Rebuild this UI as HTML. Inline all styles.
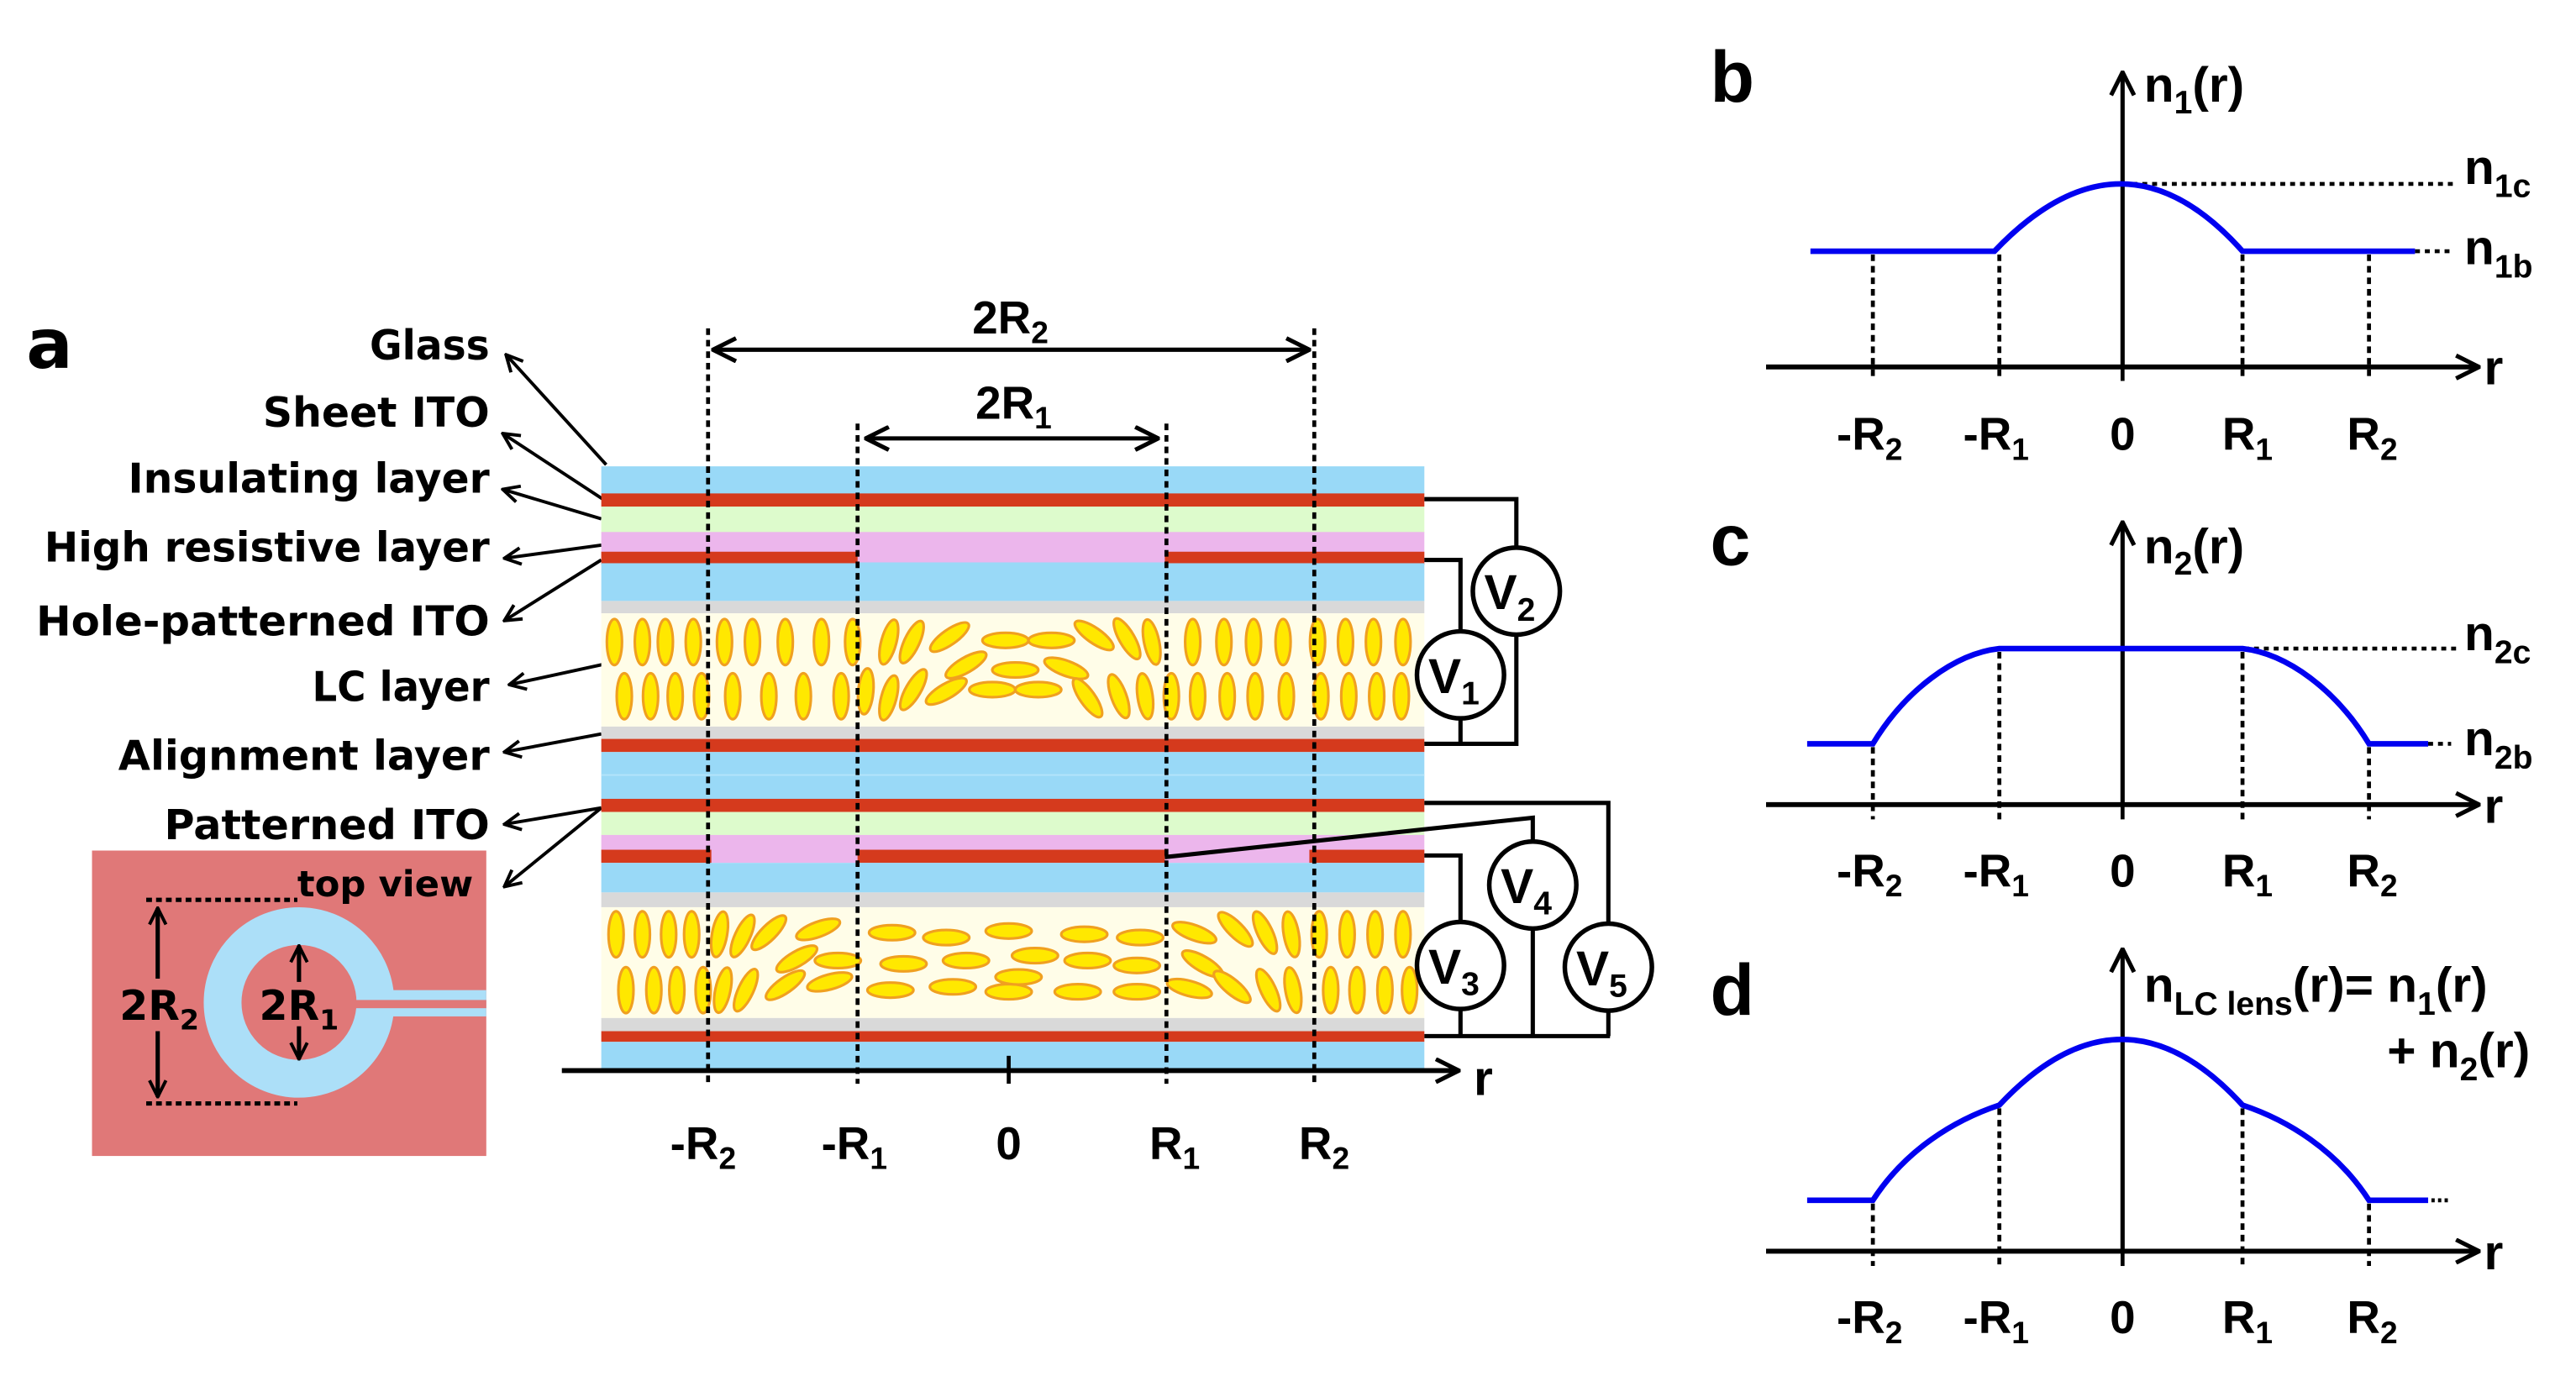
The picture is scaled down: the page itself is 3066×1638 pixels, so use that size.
<!DOCTYPE html>
<html><head><meta charset="utf-8"><style>
html,body{margin:0;padding:0;background:#fff}
svg{display:block}
.lb{font-family:"DejaVu Sans","Liberation Sans",sans-serif;font-weight:bold;fill:#000}
.gf{font-family:"Liberation Sans Narrow","Liberation Sans",sans-serif;font-weight:bold;fill:#000}
</style></head><body>
<svg width="3066" height="1638" viewBox="0 0 1568 838" preserveAspectRatio="none" xmlns="http://www.w3.org/2000/svg">
<defs>
<marker id="ah" viewBox="0 0 12 12" refX="11" refY="6" markerWidth="12" markerHeight="12" markerUnits="userSpaceOnUse" orient="auto-start-reverse">
<path d="M1,1 L11,6 L1,11" fill="none" stroke="#000" stroke-width="2"/></marker>
<marker id="ah2" viewBox="0 0 16 16" refX="15" refY="8" markerWidth="16" markerHeight="16" markerUnits="userSpaceOnUse" orient="auto-start-reverse">
<path d="M1,1 L15,8 L1,15" fill="none" stroke="#000" stroke-width="2.6"/></marker>
<g id="lc"><ellipse rx="4.6" ry="14" fill="#ffe800" stroke="#f0a020" stroke-width="1.6"/></g>
<g id="lh"><ellipse rx="14" ry="4.6" fill="#ffe800" stroke="#f0a020" stroke-width="1.6"/></g>
</defs>

<!-- panel a label -->
<text class="lb" x="16" y="224" font-size="42">a</text>
<g class="lb" font-size="25" text-anchor="end">
<text x="298" y="219" textLength="73" lengthAdjust="spacingAndGlyphs">Glass</text>
<text x="298" y="260" textLength="138" lengthAdjust="spacingAndGlyphs">Sheet ITO</text>
<text x="298" y="300" textLength="220" lengthAdjust="spacingAndGlyphs">Insulating layer</text>
<text x="298" y="342" textLength="271" lengthAdjust="spacingAndGlyphs">High resistive layer</text>
<text x="298" y="387" textLength="276" lengthAdjust="spacingAndGlyphs">Hole-patterned ITO</text>
<text x="298" y="427" textLength="108" lengthAdjust="spacingAndGlyphs">LC layer</text>
<text x="298" y="469" textLength="226" lengthAdjust="spacingAndGlyphs">Alignment layer</text>
<text x="298" y="511" textLength="198" lengthAdjust="spacingAndGlyphs">Patterned ITO</text>
</g>
<g stroke="#000" stroke-width="2" fill="none" marker-end="url(#ah)">
<line x1="369" y1="283" x2="308" y2="216"/>
<line x1="367" y1="304" x2="306" y2="264"/>
<line x1="366" y1="316" x2="306" y2="298"/>
<line x1="366" y1="332" x2="307" y2="340"/>
<line x1="366" y1="341" x2="307" y2="378"/>
<line x1="370" y1="404" x2="310" y2="417"/>
<line x1="366" y1="447" x2="307" y2="458"/>
<line x1="366" y1="492" x2="307" y2="502"/>
<line x1="366" y1="492" x2="307" y2="540"/>
</g>

<!-- stack -->
<rect x="366" y="284" width="501" height="17" fill="#99d9f7"/>
<rect x="366" y="300.5" width="501" height="8" fill="#d53a1d"/>
<rect x="366" y="308.5" width="501" height="16" fill="#ddfbcc"/>
<rect x="366" y="324" width="501" height="19" fill="#ecb6ec"/>
<rect x="366" y="336" width="156" height="8" fill="#d53a1d"/>
<rect x="709" y="336" width="158" height="8" fill="#d53a1d"/>
<rect x="366" y="343" width="501" height="23" fill="#99d9f7"/>
<rect x="522" y="342.5" width="187" height="2" fill="#99d9f7"/>
<rect x="366" y="366" width="501" height="7.5" fill="#d9d9d9"/>
<rect x="366" y="373.5" width="501" height="69" fill="#fffde8"/>
<rect x="366" y="442.5" width="501" height="7.5" fill="#d9d9d9"/>
<rect x="366" y="450" width="501" height="8" fill="#d53a1d"/>
<rect x="366" y="458" width="501" height="29" fill="#99d9f7"/>
<rect x="366" y="471.5" width="501" height="1" fill="#b3e4fa"/>
<rect x="366" y="486.5" width="501" height="8" fill="#d53a1d"/>
<rect x="366" y="494.5" width="501" height="14" fill="#ddfbcc"/>
<rect x="366" y="508.5" width="501" height="17" fill="#ecb6ec"/>
<rect x="366" y="517.5" width="67" height="8" fill="#d53a1d"/>
<rect x="522" y="517.5" width="187" height="8" fill="#d53a1d"/>
<rect x="797" y="517.5" width="70" height="8" fill="#d53a1d"/>
<rect x="366" y="525.5" width="501" height="18" fill="#99d9f7"/>
<rect x="366" y="543.5" width="501" height="9" fill="#d9d9d9"/>
<rect x="366" y="552.5" width="501" height="67.5" fill="#fffde8"/>
<rect x="366" y="620" width="501" height="8" fill="#d9d9d9"/>
<rect x="366" y="628" width="501" height="6.5" fill="#d53a1d"/>
<rect x="366" y="634.5" width="501" height="16" fill="#99d9f7"/>

<!-- upper LC molecules -->
<g>
<use href="#lc" x="374" y="391"/><use href="#lc" x="391" y="391"/><use href="#lc" x="405" y="391"/><use href="#lc" x="422" y="391"/><use href="#lc" x="441" y="391"/><use href="#lc" x="458" y="391"/><use href="#lc" x="478" y="391"/><use href="#lc" x="500" y="391"/><use href="#lc" x="519" y="391"/>
<use href="#lc" x="380" y="424"/><use href="#lc" x="396" y="424"/><use href="#lc" x="411" y="424"/><use href="#lc" x="427" y="424"/><use href="#lc" x="446" y="424"/><use href="#lc" x="468" y="424"/><use href="#lc" x="489" y="424"/><use href="#lc" x="512" y="424"/>
<use href="#lc" x="726" y="391"/><use href="#lc" x="745" y="391"/><use href="#lc" x="763" y="391"/><use href="#lc" x="781" y="391"/><use href="#lc" x="802" y="391"/><use href="#lc" x="819" y="391"/><use href="#lc" x="836" y="391"/><use href="#lc" x="854" y="391"/>
<use href="#lc" x="713" y="424"/><use href="#lc" x="729" y="424"/><use href="#lc" x="747" y="424"/><use href="#lc" x="764" y="424"/><use href="#lc" x="783" y="424"/><use href="#lc" x="804" y="424"/><use href="#lc" x="821" y="424"/><use href="#lc" x="838" y="424"/><use href="#lc" x="853" y="424"/>
<use href="#lc" transform="translate(541,391) rotate(15)"/><use href="#lc" transform="translate(555,391) rotate(25)"/><use href="#lc" transform="translate(578,388) rotate(55)"/>
<use href="#lh" x="612" y="390"/><use href="#lh" x="640" y="390"/>
<use href="#lc" transform="translate(666,387) rotate(-55)"/><use href="#lc" transform="translate(686,389) rotate(-30)"/><use href="#lc" transform="translate(701,391) rotate(-12)"/>
<use href="#lc" transform="translate(527,421) rotate(5)"/><use href="#lc" transform="translate(541,425) rotate(15)"/><use href="#lc" transform="translate(556,420) rotate(30)"/>
<use href="#lc" transform="translate(588,405) rotate(60)"/><use href="#lh" x="618" y="408"/><use href="#lc" transform="translate(649,407) rotate(-70)"/>
<use href="#lc" transform="translate(576,421) rotate(60)"/><use href="#lh" x="604" y="420"/><use href="#lh" x="632" y="420"/>
<use href="#lc" transform="translate(662,425) rotate(-35)"/><use href="#lc" transform="translate(681,424) rotate(-20)"/><use href="#lc" transform="translate(697,424) rotate(-8)"/>
</g>
<!-- lower LC molecules -->
<g>
<use href="#lc" x="375" y="569"/><use href="#lc" x="391" y="569"/><use href="#lc" x="407" y="569"/><use href="#lc" x="421" y="569"/>
<use href="#lc" x="381" y="603"/><use href="#lc" x="398" y="603"/><use href="#lc" x="412" y="603"/><use href="#lc" x="428" y="603"/>
<use href="#lc" x="803" y="569"/><use href="#lc" x="820" y="569"/><use href="#lc" x="837" y="569"/><use href="#lc" x="854" y="569"/>
<use href="#lc" x="810" y="603"/><use href="#lc" x="826" y="603"/><use href="#lc" x="843" y="603"/><use href="#lc" x="858" y="603"/>
<use href="#lc" transform="translate(438,569) rotate(10)"/><use href="#lc" transform="translate(452,570) rotate(25)"/><use href="#lc" transform="translate(468,568) rotate(45)"/><use href="#lc" transform="translate(498,566) rotate(70)"/>
<use href="#lc" transform="translate(440,603) rotate(12)"/><use href="#lc" transform="translate(454,603) rotate(25)"/><use href="#lc" transform="translate(478,600) rotate(55)"/><use href="#lc" transform="translate(505,598) rotate(75)"/>
<use href="#lc" transform="translate(485,584) rotate(60)"/><use href="#lh" x="510" y="585"/>
<use href="#lh" x="543" y="568"/><use href="#lh" x="576" y="571"/><use href="#lh" x="614" y="567"/><use href="#lh" x="660" y="569"/><use href="#lh" x="694" y="571"/>
<use href="#lh" x="550" y="587"/><use href="#lh" x="588" y="585"/><use href="#lh" x="630" y="582"/><use href="#lh" x="662" y="585"/><use href="#lh" x="692" y="588"/>
<use href="#lh" x="542" y="603"/><use href="#lh" x="580" y="601"/><use href="#lh" x="614" y="604"/><use href="#lh" x="656" y="604"/><use href="#lh" x="692" y="604"/><use href="#lh" x="620" y="595"/>
<use href="#lc" transform="translate(727,568) rotate(-70)"/><use href="#lc" transform="translate(752,566) rotate(-45)"/><use href="#lc" transform="translate(770,568) rotate(-25)"/><use href="#lc" transform="translate(786,569) rotate(-10)"/>
<use href="#lc" transform="translate(732,587) rotate(-60)"/>
<use href="#lc" transform="translate(724,602) rotate(-75)"/><use href="#lc" transform="translate(750,601) rotate(-50)"/><use href="#lc" transform="translate(772,603) rotate(-25)"/><use href="#lc" transform="translate(787,603) rotate(-10)"/>
</g>

<!-- dotted verticals -->
<g stroke="#000" stroke-width="2.4" stroke-dasharray="4,3">
<line x1="431" y1="200" x2="431" y2="660"/>
<line x1="522" y1="258" x2="522" y2="660"/>
<line x1="710" y1="258" x2="710" y2="660"/>
<line x1="800" y1="200" x2="800" y2="660"/>
</g>
<line x1="614" y1="643" x2="614" y2="660" stroke="#000" stroke-width="2.4"/>
<!-- axis -->
<line x1="342" y1="652" x2="888" y2="652" stroke="#000" stroke-width="3" marker-end="url(#ah2)"/>
<text class="gf" x="897" y="667" font-size="30">r</text>
<!-- dimension arrows -->
<line x1="434" y1="213" x2="797" y2="213" stroke="#000" stroke-width="2.6" marker-start="url(#ah2)" marker-end="url(#ah2)"/>
<line x1="527" y1="267" x2="705" y2="267" stroke="#000" stroke-width="2.6" marker-start="url(#ah2)" marker-end="url(#ah2)"/>
<text class="gf" x="615" y="203" font-size="28" text-anchor="middle">2R<tspan font-size="19" dy="6">2</tspan></text>
<text class="gf" x="617" y="255" font-size="28" text-anchor="middle">2R<tspan font-size="19" dy="6">1</tspan></text>
<g class="gf" font-size="28" text-anchor="middle">
<text x="428" y="706">-R<tspan font-size="19" dy="6">2</tspan></text>
<text x="520" y="706">-R<tspan font-size="19" dy="6">1</tspan></text>
<text x="614" y="706">0</text>
<text x="715" y="706">R<tspan font-size="19" dy="6">1</tspan></text>
<text x="806" y="706">R<tspan font-size="19" dy="6">2</tspan></text>
</g>

<!-- wires -->
<g stroke="#000" stroke-width="2.6" fill="none">
<polyline points="867,304 923,304 923,333"/>
<polyline points="923,386 923,453 867,453"/>
<polyline points="867,341 889,341 889,385"/>
<line x1="889" y1="437" x2="889" y2="453"/>
<polyline points="867,489 979,489 979,563"/>
<polyline points="709,522 933,498 933,513"/>
<polyline points="867,521 889,521 889,562"/>
<line x1="933" y1="565" x2="933" y2="631"/>
<line x1="889" y1="614" x2="889" y2="631"/>
<line x1="979" y1="615" x2="979" y2="631"/>
<line x1="867" y1="631" x2="980" y2="631"/>
</g>
<g stroke="#000" stroke-width="2.8" fill="#fff">
<circle cx="923" cy="360" r="26.5"/>
<circle cx="889" cy="411" r="26.5"/>
<circle cx="933" cy="539" r="26.5"/>
<circle cx="889" cy="588" r="26.5"/>
<circle cx="979" cy="589" r="26.5"/>
</g>
<g class="gf" font-size="30" text-anchor="middle">
<text x="919" y="371">V<tspan font-size="20" dy="7">2</tspan></text>
<text x="885" y="422">V<tspan font-size="20" dy="7">1</tspan></text>
<text x="929" y="550">V<tspan font-size="20" dy="7">4</tspan></text>
<text x="885" y="599">V<tspan font-size="20" dy="7">3</tspan></text>
<text x="975" y="600">V<tspan font-size="20" dy="7">5</tspan></text>
</g>

<!-- top view -->
<rect x="56" y="518" width="240" height="186" fill="#e07878"/>
<circle cx="182" cy="610.5" r="46.5" fill="none" stroke="#acdff8" stroke-width="23"/>
<rect x="230" y="603" width="66" height="16" fill="#acdff8"/>
<rect x="214" y="609" width="82" height="5" fill="#e07878"/>
<g stroke="#000" stroke-width="2.6" stroke-dasharray="3.5,2.5">
<line x1="89" y1="548" x2="181" y2="548"/>
<line x1="89" y1="672" x2="181" y2="672"/>
</g>
<text class="lb" x="181" y="546" font-size="22" textLength="107" lengthAdjust="spacingAndGlyphs">top view</text>
<g stroke="#000" stroke-width="2.6" marker-end="url(#ah)">
<line x1="96" y1="596" x2="96" y2="553"/>
<line x1="96" y1="628" x2="96" y2="668"/>
<line x1="182" y1="598" x2="182" y2="576"/>
<line x1="182" y1="625" x2="182" y2="645"/>
</g>
<text class="lb" x="97" y="621" font-size="25" text-anchor="middle">2R<tspan font-size="17" dy="6">2</tspan></text>
<text class="lb" x="182" y="621" font-size="25" text-anchor="middle">2R<tspan font-size="17" dy="6">1</tspan></text>

<!-- panel b -->
<text class="gf" x="1041" y="62" font-size="44">b</text>
<line x1="1292" y1="224" x2="1292" y2="44" stroke="#000" stroke-width="2.6" marker-end="url(#ah2)"/>
<line x1="1075" y1="223.5" x2="1509" y2="223.5" stroke="#000" stroke-width="3" marker-end="url(#ah2)"/>
<text class="gf" x="1512" y="234" font-size="30">r</text>
<g stroke="#000" stroke-width="2.4" stroke-dasharray="4,3">
<line x1="1140" y1="155" x2="1140" y2="232"/><line x1="1217" y1="155" x2="1217" y2="232"/>
<line x1="1365" y1="155" x2="1365" y2="232"/><line x1="1442" y1="155" x2="1442" y2="232"/>
<line x1="1292" y1="112" x2="1495" y2="112" stroke-dasharray="3,3"/>
<line x1="1470" y1="153" x2="1492" y2="153" stroke-dasharray="3,3"/>
</g>
<line x1="1292" y1="224" x2="1292" y2="232" stroke="#000" stroke-width="2.4"/>
<path d="M1102,153 L1214,153 Q1292,71 1365,153 L1470,153" fill="none" stroke="#0000f0" stroke-width="3.4"/>
<text class="gf" x="1305" y="62" font-size="30">n<tspan font-size="20" dy="7">1</tspan><tspan dy="-7">(r)</tspan></text>
<text class="gf" x="1500" y="112" font-size="30">n<tspan font-size="20" dy="8">1c</tspan></text>
<text class="gf" x="1500" y="161" font-size="30">n<tspan font-size="20" dy="8">1b</tspan></text>
<g class="gf" font-size="28" text-anchor="middle">
<text x="1138" y="274">-R<tspan font-size="19" dy="6">2</tspan></text>
<text x="1215" y="274">-R<tspan font-size="19" dy="6">1</tspan></text>
<text x="1292" y="274">0</text>
<text x="1368" y="274">R<tspan font-size="19" dy="6">1</tspan></text>
<text x="1444" y="274">R<tspan font-size="19" dy="6">2</tspan></text>
</g>

<!-- panel c -->
<text class="gf" x="1041" y="344" font-size="44">c</text>
<line x1="1292" y1="490" x2="1292" y2="318" stroke="#000" stroke-width="2.6" marker-end="url(#ah2)"/>
<line x1="1075" y1="490" x2="1509" y2="490" stroke="#000" stroke-width="3" marker-end="url(#ah2)"/>
<text class="gf" x="1512" y="501" font-size="30">r</text>
<g stroke="#000" stroke-width="2.4" stroke-dasharray="4,3">
<line x1="1140" y1="455" x2="1140" y2="499"/><line x1="1217" y1="397" x2="1217" y2="499"/>
<line x1="1365" y1="397" x2="1365" y2="499"/><line x1="1442" y1="455" x2="1442" y2="499"/>
<line x1="1330" y1="395" x2="1495" y2="395" stroke-dasharray="3,3"/>
<line x1="1478" y1="453" x2="1492" y2="453" stroke-dasharray="3,3"/>
</g>
<line x1="1292" y1="490" x2="1292" y2="499" stroke="#000" stroke-width="2.4"/>
<path d="M1100,453 L1140,453 C1160,420 1190,398 1217,395 L1365,395 C1392,398 1422,420 1442,453 L1478,453" fill="none" stroke="#0000f0" stroke-width="3.4"/>
<text class="gf" x="1305" y="343" font-size="30">n<tspan font-size="20" dy="7">2</tspan><tspan dy="-7">(r)</tspan></text>
<text class="gf" x="1500" y="396" font-size="30">n<tspan font-size="20" dy="8">2c</tspan></text>
<text class="gf" x="1500" y="460" font-size="30">n<tspan font-size="20" dy="8">2b</tspan></text>
<g class="gf" font-size="28" text-anchor="middle">
<text x="1138" y="540">-R<tspan font-size="19" dy="6">2</tspan></text>
<text x="1215" y="540">-R<tspan font-size="19" dy="6">1</tspan></text>
<text x="1292" y="540">0</text>
<text x="1368" y="540">R<tspan font-size="19" dy="6">1</tspan></text>
<text x="1444" y="540">R<tspan font-size="19" dy="6">2</tspan></text>
</g>

<!-- panel d -->
<text class="gf" x="1041" y="618" font-size="44">d</text>
<line x1="1292" y1="762" x2="1292" y2="578" stroke="#000" stroke-width="2.6" marker-end="url(#ah2)"/>
<line x1="1075" y1="762" x2="1509" y2="762" stroke="#000" stroke-width="3" marker-end="url(#ah2)"/>
<text class="gf" x="1512" y="773" font-size="30">r</text>
<g stroke="#000" stroke-width="2.4" stroke-dasharray="4,3">
<line x1="1140" y1="733" x2="1140" y2="771"/><line x1="1217" y1="675" x2="1217" y2="771"/>
<line x1="1365" y1="675" x2="1365" y2="771"/><line x1="1442" y1="733" x2="1442" y2="771"/>
<line x1="1480" y1="731" x2="1490" y2="731" stroke-dasharray="2,2"/>
</g>
<line x1="1292" y1="762" x2="1292" y2="771" stroke="#000" stroke-width="2.4"/>
<path d="M1100,731 L1140,731 C1160,700 1190,682 1217,673 Q1292,593 1365,673 C1392,682 1422,700 1442,731 L1478,731" fill="none" stroke="#0000f0" stroke-width="3.4"/>
<text class="gf" x="1305" y="610" font-size="30">n<tspan font-size="20" dy="8">LC lens</tspan><tspan dy="-8">(r)= n</tspan><tspan font-size="20" dy="8">1</tspan><tspan dy="-8">(r)</tspan></text>
<text class="gf" x="1540" y="650" font-size="30" text-anchor="end">+ n<tspan font-size="20" dy="8">2</tspan><tspan dy="-8">(r)</tspan></text>
<g class="gf" font-size="28" text-anchor="middle">
<text x="1138" y="812">-R<tspan font-size="19" dy="6">2</tspan></text>
<text x="1215" y="812">-R<tspan font-size="19" dy="6">1</tspan></text>
<text x="1292" y="812">0</text>
<text x="1368" y="812">R<tspan font-size="19" dy="6">1</tspan></text>
<text x="1444" y="812">R<tspan font-size="19" dy="6">2</tspan></text>
</g>
</svg>
</body></html>
